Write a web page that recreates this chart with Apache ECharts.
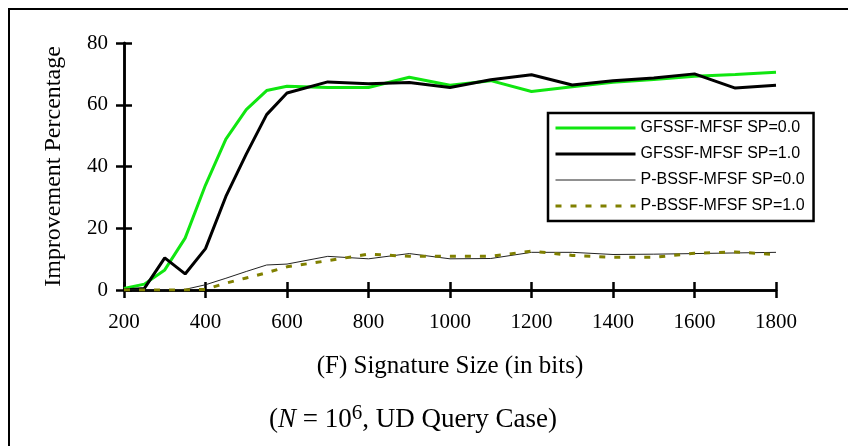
<!DOCTYPE html>
<html>
<head>
<meta charset="utf-8">
<script src="https://cdn.jsdelivr.net/npm/echarts@6/dist/echarts.min.js"></script>
<style>html,body{margin:0;padding:0;background:#fff;}#c{width:848px;height:446px;}</style>
</head>
<body>
<div id="c"></div>
<script>
// ---- data ----
const signatureSize = [200,250,300,350,400,450,500,550,600,700,800,900,1000,1100,1200,1300,1400,1500,1600,1700,1800];
const gfssfSP0 = [0.5,1.9,6.5,16.8,34,48.9,58.4,64.6,66,65.6,65.6,68.9,66.3,67.8,64.3,65.8,67.3,68.2,69.2,69.8,70.5];
const gfssfSP1 = [0,0.5,10.4,5.2,13.4,30.3,44,56.8,63.8,67.4,66.8,67.2,65.6,68.1,69.7,66.4,67.8,68.7,70.0,65.4,66.3];
const pbssfSP0 = [0,0,0,0.2,1.7,3.8,6.0,8.1,8.4,10.9,10.1,11.8,10.1,10.2,12.2,12.2,11.5,11.6,11.8,12.0,12.2];
const pbssfSP1 = [0,0,0,0,0.2,2.2,3.9,5.6,7.5,9.5,11.6,10.9,10.9,10.9,12.6,11.2,10.6,10.6,11.9,12.3,11.5];
const seriesNames = ['GFSSF-MFSF SP=0.0','GFSSF-MFSF SP=1.0','P-BSSF-MFSF SP=0.0','P-BSSF-MFSF SP=1.0'];
const xTicks = {min:200, max:1800, interval:200};
const yTicks = {min:0, max:80, interval:20};

const pair = (xs, ys) => xs.map((x,i)=>[x, ys[i]]);
const serif = 'Liberation Serif';
const sans = 'Liberation Sans';
const colors = ['#10e610', '#000000', '#222222', '#808000'];
const widths = [3, 3, 1, 3];
const dashes = ['solid', 'solid', 'solid', [6,9]];

const axisLine = {show:true, onZero:false, lineStyle:{color:'#000', width:2.5}};
const plain = v => String(v);
const chart = echarts.init(document.getElementById('c'), null, {renderer:'canvas'});
chart.setOption({
  backgroundColor:'#fff',
  animation:false,
  grid:{left:124, right:72, top:43, bottom:156, containLabel:false},
  xAxis:[
    {type:'value', min:xTicks.min, max:xTicks.max, interval:xTicks.interval, position:'bottom',
     axisLine:axisLine, axisTick:{show:true, inside:false, length:8, lineStyle:{color:'#000', width:2.5}},
     axisLabel:{color:'#000', fontFamily:serif, fontSize:21, margin:22, formatter:plain},
     splitLine:{show:false},
     name:'(F) Signature Size (in bits)', nameLocation:'middle', nameGap:64,
     nameTextStyle:{color:'#000', fontFamily:serif, fontSize:25}},
    {type:'value', min:xTicks.min, max:xTicks.max, interval:xTicks.interval, position:'bottom', offset:0,
     axisLine:axisLine, axisTick:{show:true, inside:true, length:8, lineStyle:{color:'#000', width:2.5}},
     axisLabel:{show:false}, splitLine:{show:false}}
  ],
  yAxis:[
    {type:'value', min:yTicks.min, max:yTicks.max, interval:yTicks.interval, position:'left',
     axisLine:axisLine, axisTick:{show:true, inside:false, length:8, lineStyle:{color:'#000', width:2.5}},
     axisLabel:{color:'#000', fontFamily:serif, fontSize:21, margin:16, formatter:plain},
     splitLine:{show:false},
     name:'Improvement Percentage', nameLocation:'middle', nameGap:58, nameRotate:90,
     nameTextStyle:{color:'#000', fontFamily:serif, fontSize:24}},
    {type:'value', min:yTicks.min, max:yTicks.max, interval:yTicks.interval, position:'left', offset:0,
     axisLine:axisLine, axisTick:{show:true, inside:true, length:8, lineStyle:{color:'#000', width:2.5}},
     axisLabel:{show:false}, splitLine:{show:false}}
  ],
  legend:{
    orient:'vertical', left:548, top:113,
    padding:[7,9,7,6],
    itemWidth:80, itemHeight:14, itemGap:10,
    borderColor:'#000', borderWidth:2.5, backgroundColor:'#fff',
    itemStyle:{opacity:0},
    textStyle:{color:'#000', fontFamily:sans, fontSize:16},
    data:seriesNames.map((n,i)=>({name:n, itemStyle:{opacity:0},
      lineStyle:{color:colors[i], width:widths[i], type:dashes[i]}}))
  },
  series:seriesNames.map((n,i)=>({
    name:n, type:'line',
    data:pair(signatureSize,[gfssfSP0,gfssfSP1,pbssfSP0,pbssfSP1][i]),
    showSymbol:false, symbol:'none',
    lineStyle:{color:colors[i], width:widths[i], type:dashes[i]},
    itemStyle:{color:colors[i]}
  })),
  graphic:[
    {type:'rect', shape:{x:9, y:9, width:900, height:500}, style:{fill:'none', stroke:'#000', lineWidth:2}, silent:true, z:-10},
    {type:'text', x:413, y:420, style:{
      text:'({i|N} = 10{s|6}, UD Query Case)',
      fontFamily:serif, fontSize:27, fill:'#000', align:'center', verticalAlign:'middle',
      rich:{i:{fontFamily:serif, fontSize:27, fontStyle:'italic'}, s:{fontFamily:serif, fontSize:21, padding:[0,0,13,0], verticalAlign:'bottom'}}
    }}
  ]
});
</script>
</body>
</html>
